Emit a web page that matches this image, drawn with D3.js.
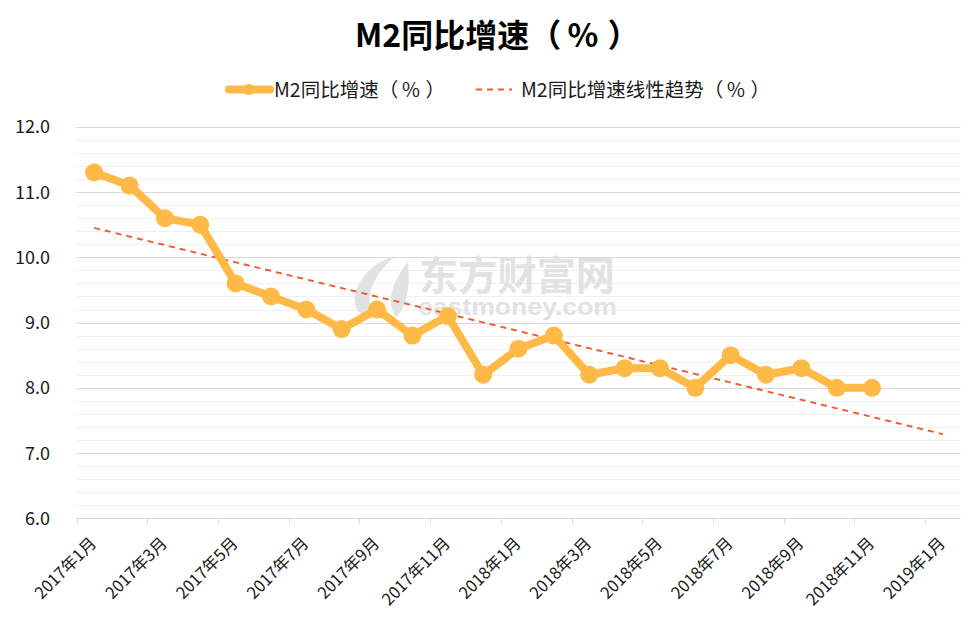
<!DOCTYPE html>
<html><head><meta charset="utf-8">
<script src="https://cdn.jsdelivr.net/npm/d3@7"></script>
<style>
html,body{margin:0;padding:0;background:#fff;}
svg{display:block;font-family:"Noto Sans CJK SC","Noto Sans",sans-serif;}
</style></head>
<body><svg id="chart" width="971" height="621"></svg>
<script>
const allMonths = ["2017年1月","2017年2月","2017年3月","2017年4月","2017年5月","2017年6月","2017年7月","2017年8月","2017年9月","2017年10月","2017年11月","2017年12月","2018年1月","2018年2月","2018年3月","2018年4月","2018年5月","2018年6月","2018年7月","2018年8月","2018年9月","2018年10月","2018年11月","2018年12月","2019年1月"];
const months = allMonths.slice(0, 23);
const m2Values = [11.3,11.1,10.6,10.5,9.6,9.4,9.2,8.9,9.2,8.8,9.1,8.2,8.6,8.8,8.2,8.3,8.3,8.0,8.5,8.2,8.3,8.0,8.0];
const trendMonths = ["2017年1月","2019年1月"];
const trendValues = [10.45, 7.29];
const tickLabels = ["2017年1月","2017年3月","2017年5月","2017年7月","2017年9月","2017年11月","2018年1月","2018年3月","2018年5月","2018年7月","2018年9月","2018年11月","2019年1月"];
const yTicks = [6,7,8,9,10,11,12];
const titleText = "M2同比增速（%）";
const seriesName = "M2同比增速（%）";
const trendName = "M2同比增速线性趋势（%）";

(function(){
const svg = d3.select("#chart");
const pL = 76.5, pR = 960.5, pT = 126.8, pB = 518.3;
const x = d3.scaleBand().domain(allMonths).range([pL, pR]).padding(0);
const y = d3.scaleLinear().domain([6, 12]).range([pB, pT]);
const cx = m => x(m) + x.bandwidth() / 2;

// space the full-width brackets out as the reference font does
function bracketText(sel, str, fs) {
  const i = str.indexOf("（");
  const parts = [
    {t: str.slice(0, i), dx: 0},
    {t: "（", dx: 0},
    {t: "%", dx: 0.2 * fs},
    {t: "）", dx: 0.28 * fs}
  ];
  sel.selectAll("tspan").data(parts).join("tspan").attr("dx", d => d.dx).text(d => d.t);
}

const minor = d3.range(6, 12.0001, 0.2).filter(v => Math.abs(v - Math.round(v)) > 1e-6);
svg.append("g").selectAll("line").data(minor).join("line")
  .attr("x1", pL).attr("x2", pR)
  .attr("y1", d => Math.round(y(d)) + 0.5).attr("y2", d => Math.round(y(d)) + 0.5)
  .attr("stroke", "#f0f0f0").attr("stroke-width", 1);
svg.append("g").selectAll("line").data(yTicks.filter(v => v > 6)).join("line")
  .attr("x1", pL).attr("x2", pR)
  .attr("y1", d => Math.round(y(d)) + 0.5).attr("y2", d => Math.round(y(d)) + 0.5)
  .attr("stroke", "#d9d9d9").attr("stroke-width", 1);

const wm = svg.append("g").attr("fill", "#e2e2e2");
wm.append("path").attr("d", "M395,256 C372,262 352,284 355,304 C357,314 366,318 376,317 C364,304 368,280 395,256 Z M408,262 C395,278 384,300 396,317 C405,310 411,290 408,262 Z");
wm.append("text").attr("x", 419).attr("y", 290).attr("font-size", 40).attr("font-weight", 700)
  .attr("textLength", 196).attr("lengthAdjust", "spacingAndGlyphs").text("东方财富网");
wm.append("text").attr("x", 418).attr("y", 315).attr("font-size", 24).attr("font-weight", 700)
  .attr("font-family", "Arial, 'Liberation Sans', sans-serif")
  .attr("textLength", 199).attr("lengthAdjust", "spacingAndGlyphs").text("eastmoney.com");

svg.append("line").attr("x1", pL).attr("x2", pR).attr("y1", Math.round(pB) + 0.5).attr("y2", Math.round(pB) + 0.5)
  .attr("stroke", "#d9d9d9");
const xa = svg.append("g");
xa.selectAll("line").data(tickLabels).join("line")
  .attr("x1", d => Math.round(x(d)) + 0.5).attr("x2", d => Math.round(x(d)) + 0.5)
  .attr("y1", pB).attr("y2", pB + 5).attr("stroke", "#d9d9d9");
xa.selectAll("text").data(tickLabels).join("text")
  .attr("text-anchor", "end")
  .attr("transform", d => `translate(${x(d) + 21},${pB + 26}) rotate(-45)`)
  .attr("font-size", 16.5).attr("fill", "#1a1a1a").text(d => d);

svg.append("g").selectAll("text").data(yTicks).join("text")
  .attr("x", 50).attr("y", d => y(d) + 6.5).attr("text-anchor", "end")
  .attr("font-size", 18).attr("fill", "#1a1a1a").text(d => d.toFixed(1));

svg.append("path").datum(trendMonths.map((m, i) => [cx(m), y(trendValues[i])]))
  .attr("d", d3.line()).attr("fill", "none").attr("stroke", "#ec5b2e")
  .attr("stroke-width", 1.9).attr("stroke-dasharray", "6,5");

const pts = months.map((m, i) => [cx(m), y(m2Values[i])]);
svg.append("path").datum(pts).attr("d", d3.line())
  .attr("fill", "none").attr("stroke", "#ffb946").attr("stroke-width", 8).attr("stroke-linejoin", "round");
svg.append("g").selectAll("circle").data(pts).join("circle")
  .attr("cx", d => d[0]).attr("cy", d => d[1]).attr("r", 9).attr("fill", "#ffb946");

const tt = svg.append("text").attr("x", 355).attr("y", 47)
  .attr("font-size", 32).attr("font-weight", 700).attr("fill", "#000");
bracketText(tt, titleText, 32);

const lg = svg.append("g");
lg.append("line").attr("x1", 229).attr("x2", 270).attr("y1", 89.5).attr("y2", 89.5)
  .attr("stroke", "#ffb946").attr("stroke-width", 8).attr("stroke-linecap", "round");
lg.append("circle").attr("cx", 249).attr("cy", 89.5).attr("r", 5.5).attr("fill", "#ffb946");
const l1 = lg.append("text").attr("x", 274).attr("y", 96.5).attr("font-size", 19.5).attr("fill", "#1a1a1a");
bracketText(l1, seriesName, 19.5);
lg.append("line").attr("x1", 476).attr("x2", 512).attr("y1", 89.5).attr("y2", 89.5)
  .attr("stroke", "#ec5b2e").attr("stroke-width", 1.9).attr("stroke-dasharray", "6,5");
const l2 = lg.append("text").attr("x", 521).attr("y", 96.5).attr("font-size", 19.5).attr("fill", "#1a1a1a");
bracketText(l2, trendName, 19.5);
})();
</script></body></html>
